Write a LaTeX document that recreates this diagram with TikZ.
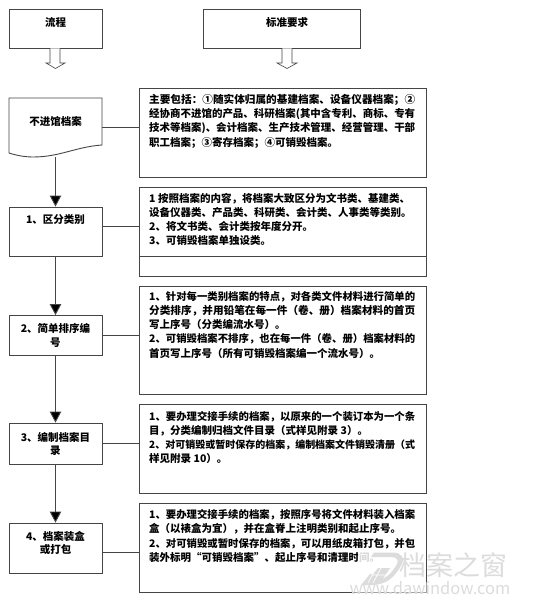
\documentclass[tikz,border=0pt]{standalone}
\usepackage{fontspec}
\usepackage{graphicx}
\setmainfont{Noto Sans CJK SC}
\usetikzlibrary{arrows.meta}
\definecolor{ln}{HTML}{454545}
\definecolor{wm}{HTML}{DCDCDC}
\newcommand{\fullline}[1]{\resizebox{266pt}{!}{#1}}
\tikzset{
  x=1pt,y=-1pt,
  framebox/.style={draw=ln,line width=.9pt,rectangle,inner sep=0pt},
  lbl/.style={font=\fontsize{10.5}{13.5}\selectfont\bfseries,align=center,inner sep=0pt,text=black},
  req/.style={font=\fontsize{10.5}{14.2}\selectfont\bfseries,align=left,anchor=north west,inner sep=0pt,text=black},
  link/.style={draw=ln,line width=.9pt},
  flow/.style={draw=ln,line width=.9pt,-{Triangle[length=11pt,width=11.5pt,fill=black]}},
  hollow/.style={draw=ln,line width=.6pt,fill=white},
}
\begin{document}
\begin{tikzpicture}
\useasboundingbox (0,0) rectangle (537,607);
% headers
\node[framebox,minimum width=93pt,minimum height=39pt] (h1) at (55.5,28.5) {};
\node[framebox,minimum width=157pt,minimum height=39pt] (h2) at (282,28.5) {};
\node[lbl] (h1t) at (55.5,22) {流程};
\node[lbl] (h2t) at (287,22) {标准要求};
% hollow arrows
\draw[hollow] (50,48.5) -- (50,63) -- (46,63) -- (55.5,68.5) -- (65,63) -- (60,63) -- (60,48.5);
\draw[hollow] (282,48.5) -- (282,63) -- (277,63) -- (287,68.5) -- (297,63) -- (292,63) -- (292,48.5);
% document shape
\node[minimum width=93pt,minimum height=50pt,inner sep=0pt] (d0) at (55.5,123) {};
\draw[ln,line width=.9pt] (9,98) -- (102,98) -- (102,145) .. controls (75,147) and (60,157) .. (33,157) .. controls (24,157) and (15,155) .. (9,153) -- cycle;
\node[lbl] (d0t) at (55.5,121) {不进馆档案};
\coordinate (d0b) at (55.5,157);
% left boxes
\node[framebox,minimum width=93pt,minimum height=49pt] (b1) at (55.5,231.5) {};
\node[lbl] (b1t) at (55.5,220) {1、区分类别};
\node[framebox,minimum width=93pt,minimum height=40pt] (b2) at (55.5,335.5) {};
\node[lbl] (b2t) at (55.5,335.5) {2、简单排序编\\号};
\node[framebox,minimum width=93pt,minimum height=41pt] (b3) at (55.5,443.5) {};
\node[lbl] (b3t) at (55.5,444) {3、编制档案目\\录};
\node[framebox,minimum width=93pt,minimum height=50pt] (b4) at (55.5,548) {};
\node[lbl] (b4t) at (55.5,543) {4、档案装盒\\或打包};
% right boxes
\node[framebox,minimum width=287pt,minimum height=89pt] (r0) at (282.5,132.5) {};
\node[framebox,minimum width=287pt,minimum height=89pt] (r1) at (282.5,231.5) {};
\node[framebox,minimum width=287pt,minimum height=108pt] (r2) at (282.5,340) {};
\node[framebox,minimum width=287pt,minimum height=89pt] (r3) at (282.5,448.5) {};
\node[framebox,minimum width=287pt,minimum height=89pt] (r4) at (282.5,547.5) {};
\draw[link] (r1.west |- b1.south) -- (r1.east |- b1.south);
% requirement texts
\node[req] (t0) at (149,94) {\fullline{主要包括：①随实体归属的基建档案、设备仪器档案；②}\\\fullline{经协商不进馆的产品、科研档案(其中含专利、商标、专有}\\\fullline{技术等档案)、会计档案、生产技术管理、经营管理、干部}\\职工档案；③寄存档案；④可销毁档案。};
\node[req] (t1) at (149,193) {1 按照档案的内容，将档案大致区分为文书类、基建类、\\设备仪器类、产品类、科研类、会计类、人事类等类别。\\2、将文书类、会计类按年度分开。\\3、可销毁档案单独设类。};
\node[req] (t2) at (149,291) {\fullline{1、针对每一类别档案的特点，对各类文件材料进行简单的}\\\fullline{分类排序，并用铅笔在每一件（卷、册）档案材料的首页}\\写上序号（分类编流水号）。\\\fullline{2、可销毁档案不排序，也在每一件（卷、册）档案材料的}\\首页写上序号（所有可销毁档案编一个流水号）。};
\node[req] (t3) at (149,411) {\fullline{1、要办理交接手续的档案，以原来的一个装订本为一个条}\\目，分类编制归档文件目录（式样见附录 3）。\\\fullline{2、对可销毁或暂时保存的档案，编制档案文件销毁清册（式}\\样见附录 10）。};
\node[req] (t4) at (149,509.5) {\fullline{1、要办理交接手续的档案，按照序号将文件材料装入档案}\\盒（以裱盒为宜），并在盒脊上注明类别和起止序号。\\\fullline{2、对可销毁或暂时保存的档案，可以用纸皮箱打包，并包}\\装外标明“可销毁档案”、起止序号和清理时间。};
% side links
\draw[link] (d0.east |- 0,127) -- (r0.west |- 0,127);
\draw[link] (b1.east |- 0,226) -- (r1.west |- 0,226);
\draw[link] (b2.east) -- (r2.west |- b2.east);
\draw[link] (b3.east) -- (r3.west |- b3.east);
\draw[link] (b4.east |- 0,552) -- (r4.west |- 0,552);
% flow
\draw[flow] (d0b) -- (b1.north);
\draw[flow] (b1.south) -- (b2.north);
\draw[flow] (b2.south) -- (b3.north);
\draw[flow] (b3.south) -- (b4.north);
% watermark
\fill[white,opacity=.85] (358,551) rectangle (405,586);
\fill[white,opacity=.5] (355,582) rectangle (507,596);
\fill[wm,even odd rule] (374,552.5) -- (393,552.5) .. controls (402,552.5) and (405,559) .. (402,564) .. controls (396,575) and (388,585) .. (372,585) -- (361,585) -- (370,574) -- (376,574) -- (372,581) .. controls (385,581) and (392,573) .. (397,564) .. controls (399,560) and (397,557) .. (391,557) -- (371,557) -- cycle;
\fill[wm] (378,568) -- (390,568) -- (380,583) -- (366,583) -- cycle;
\draw[white,line width=.7pt] (376,568) -- (368,583) (381,568) -- (373,583) (372,575) -- (387,575);
\node[inner sep=0pt,font=\fontsize{27}{27}\selectfont,text=wm] (wm1) at (453,565) {档案之窗};
\node[inner sep=0pt,font=\fontsize{16.5}{16.5}\selectfont,text=wm] (wm2) at (430,588) {www.dawindow.com};
\end{tikzpicture}
\end{document}
